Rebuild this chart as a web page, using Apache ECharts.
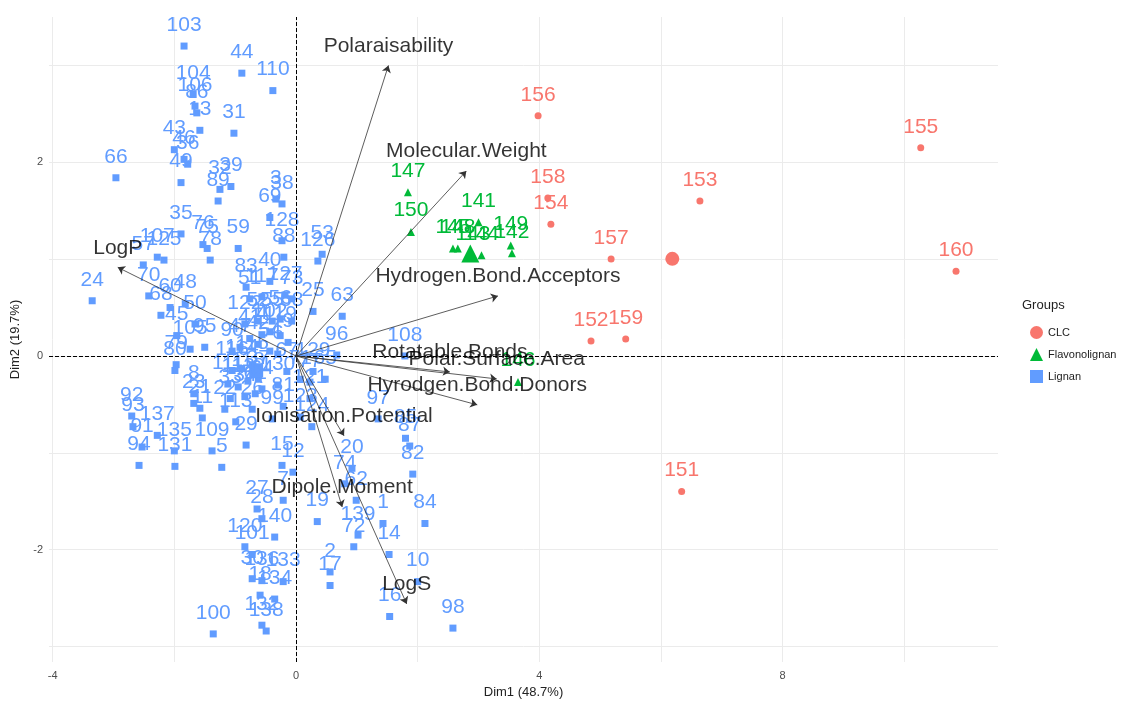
<!DOCTYPE html>
<html>
<head>
<meta charset="utf-8">
<script src="https://cdn.jsdelivr.net/npm/echarts@6/dist/echarts.min.js"></script>
<style>
  html, body { margin: 0; padding: 0; background: #fff; }
  #main { width: 1123px; height: 704px; }
</style>
</head>
<body>
<div id="main"></div>
<script>
// 个体坐标 [Dim1, Dim2, 标签]
var clcPts = [
  [3.98, 2.48, '156'], [4.14, 1.63, '158'], [4.19, 1.36, '154'], [5.18, 1.00, '157'],
  [4.85, 0.155, '152'], [5.42, 0.175, '159'], [6.64, 1.60, '153'], [10.27, 2.15, '155'],
  [10.85, 0.876, '160'], [6.34, -1.40, '151']
];
var flavPts = [
  [1.84, 1.69, '147'], [1.89, 1.28, '150'], [3.00, 1.38, '141'], [2.58, 1.11, '145'],
  [2.66, 1.11, '148'], [2.91, 1.04, '143'], [3.05, 1.04, '144'], [3.53, 1.14, '149'],
  [3.55, 1.06, '142'], [3.65, -0.27, '146']
];
var lignanPts = [
  [-1.84, 3.20, '103'], [-0.89, 2.92, '44'], [-0.38, 2.74, '110'], [-1.69, 2.70, '104'],
  [-1.66, 2.58, '106'], [-1.63, 2.51, '86'], [-1.58, 2.33, '13'], [-1.02, 2.30, '31'],
  [-2.00, 2.13, '43'], [-1.84, 2.03, '46'], [-1.78, 1.98, '36'], [-1.89, 1.79, '49'],
  [-2.96, 1.84, '66'], [-1.25, 1.72, '32'], [-1.07, 1.75, '39'], [-1.28, 1.60, '89'],
  [-1.89, 1.26, '35'], [-1.53, 1.15, '76'], [-1.46, 1.11, '75'], [-1.41, 0.99, '78'],
  [-0.95, 1.11, '59'], [-2.28, 1.02, '107'], [-2.17, 0.99, '125'], [-2.51, 0.94, '57'],
  [-2.42, 0.62, '70'], [-3.35, 0.57, '24'], [-2.22, 0.42, '68'], [-2.07, 0.50, '60'],
  [-1.82, 0.54, '48'], [-1.66, 0.33, '50'], [-1.96, 0.21, '45'], [-1.74, 0.07, '105'],
  [-1.50, 0.09, '95'], [-1.97, -0.09, '79'], [-1.99, -0.15, '80'], [-1.68, -0.39, '8'],
  [-1.68, -0.49, '23'], [-1.58, -0.54, '21'], [-1.54, -0.64, '11'], [-0.99, -0.68, '113'],
  [-2.70, -0.62, '92'], [-2.68, -0.73, '93'], [-2.28, -0.82, '137'], [-2.53, -0.94, '91'],
  [-2.58, -1.13, '94'], [-2.00, -0.98, '135'], [-1.99, -1.14, '131'], [-1.38, -0.98, '109'],
  [-1.22, -1.15, '5'], [-0.82, -0.92, '29'], [-0.39, -0.65, '99'], [-0.23, -1.13, '15'],
  [-0.05, -1.20, '12'], [-0.21, -1.49, '7'], [-0.64, -1.58, '27'], [-0.56, -1.68, '28'],
  [-0.35, -1.87, '140'], [-0.84, -1.97, '120'], [-0.72, -2.05, '101'], [-0.72, -2.30, '30'],
  [-0.56, -2.32, '136'], [-0.21, -2.33, '133'], [-0.59, -2.47, '18'], [-0.35, -2.51, '134'],
  [-0.56, -2.78, '132'], [-0.49, -2.84, '138'], [-1.36, -2.87, '100'], [0.56, -2.23, '2'],
  [0.56, -2.37, '17'], [0.35, -1.71, '19'], [1.02, -1.85, '139'], [0.95, -1.97, '72'],
  [1.43, -1.73, '1'], [1.53, -2.05, '14'], [2.12, -1.73, '84'], [2.00, -2.33, '10'],
  [1.54, -2.69, '16'], [2.58, -2.81, '98'], [0.92, -1.16, '20'], [0.80, -1.32, '74'],
  [0.99, -1.49, '62'], [1.35, -0.65, '97'], [1.80, -0.85, '85'], [1.87, -0.93, '87'],
  [1.92, -1.22, '82'], [1.79, 0.00, '108'], [0.43, 1.05, '53'], [0.36, 0.98, '126'],
  [0.28, 0.46, '25'], [0.76, 0.41, '63'], [0.67, 0.01, '96'], [0.28, -0.16, '129'],
  [0.48, -0.24, '65'], [-0.33, 1.62, '3'], [-0.43, 1.43, '69'], [-0.23, 1.57, '38'],
  [-0.23, 1.19, '128'], [-0.20, 1.02, '88'], [-0.43, 0.77, '40'], [-0.82, 0.71, '83'],
  [-0.84, 0.33, '122'], [-0.76, 0.59, '51'], [-0.56, 0.61, '117'], [-0.18, 0.63, '127'],
  [-0.07, 0.59, '73'], [-0.62, 0.36, '52'], [-0.39, 0.36, '55'], [-0.26, 0.38, '56'],
  [-0.07, 0.36, '58'], [-0.76, 0.18, '41'], [-0.62, 0.12, '42'], [-0.92, 0.09, '47'],
  [-0.56, 0.22, '4'], [-0.43, 0.25, '102'], [-0.26, 0.21, '119'], [-0.13, 0.14, '9'],
  [-1.05, 0.05, '90'], [-0.43, 0.05, '54'], [-0.30, 0.02, '6'], [-1.05, -0.15, '116'],
  [-0.89, -0.13, '114'], [-0.72, -0.09, '115'], [-1.12, -0.29, '111'], [-0.95, -0.32, '112'],
  [-0.79, -0.26, '118'], [-0.62, -0.24, '37'], [-1.08, -0.44, '33'], [-0.84, -0.42, '34'],
  [-0.67, -0.39, '61'], [-0.56, -0.34, '64'], [-1.17, -0.55, '22'], [-0.72, -0.55, '26'],
  [-0.15, -0.16, '67'], [0.07, -0.24, '71'], [0.23, -0.27, '77'], [-0.21, -0.52, '81'],
  [0.23, -0.44, '121'], [0.07, -0.63, '123'], [0.26, -0.73, '124'], [-0.30, -0.30, '130']
];

// 变量箭头
var varNames = ['Polaraisability', 'Molecular.Weight', 'Hydrogen.Bond.Acceptors', 'Rotatable.Bonds',
  'Polar.Surface.Area', 'Hyrodgen.Bond.Donors', 'Ionisation.Potential', 'Dipole.Moment', 'LogS', 'LogP'];
var varX = [1.52, 2.80, 3.32, 2.53, 3.30, 2.98, 0.79, 0.76, 1.82, -2.93];
var varY = [3.00, 1.91, 0.62, -0.165, -0.237, -0.505, -0.825, -1.56, -2.56, 0.915];

// 刻度
var xTicks = [-4, 0, 4, 8];
var xGrid = [-4, -2, 0, 2, 4, 6, 8, 10];
var yTicks = [-2, 0, 2];
var yGrid = [-3, -2, -1, 0, 1, 2, 3];

var font = 'Liberation Sans, Arial, sans-serif';

function mean(pts, k) {
  var s = 0;
  pts.forEach(function (p) { s += p[k]; });
  return s / pts.length;
}

function groupSeries(name, pts, color, symbol, size, bigSize) {
  var data = pts.map(function (p) {
    return { value: [p[0], p[1]], name: p[2] };
  });
  // 组均值点
  data.push({ value: [mean(pts, 0), mean(pts, 1)], name: '', symbolSize: bigSize, label: { show: false } });
  return {
    type: 'scatter',
    name: name,
    data: data,
    symbol: symbol,
    symbolSize: size,
    itemStyle: { color: color, opacity: 1 },
    label: {
      show: true,
      position: 'top',
      distance: 7,
      formatter: function (p) { return p.name; },
      color: color,
      fontSize: 21,
      fontFamily: font
    },
    z: 3
  };
}

var myChart = echarts.init(document.getElementById('main'));

var option = {
  animation: false,
  backgroundColor: '#fff',
  grid: { left: 49, right: 125, top: 17, bottom: 41 },
  xAxis: {
    type: 'value',
    min: -4.06,
    max: 11.54,
    axisLine: { show: false },
    axisTick: { show: false, customValues: xGrid },
    splitLine: { show: true, lineStyle: { color: '#ebebeb', width: 1 } },
    axisLabel: { customValues: xTicks, color: '#4d4d4d', fontSize: 11, margin: 8, fontFamily: font },
    name: 'Dim1 (48.7%)',
    nameLocation: 'middle',
    nameGap: 24,
    nameTextStyle: { color: '#222', fontSize: 13, fontFamily: font }
  },
  yAxis: {
    type: 'value',
    min: -3.16,
    max: 3.5,
    axisLine: { show: false },
    axisTick: { show: false, customValues: yGrid },
    splitLine: { show: true, lineStyle: { color: '#ebebeb', width: 1 } },
    axisLabel: { customValues: yTicks, color: '#4d4d4d', fontSize: 11, margin: 6, fontFamily: font },
    name: 'Dim2 (19.7%)',
    nameLocation: 'middle',
    nameGap: 26,
    nameTextStyle: { color: '#222', fontSize: 13, fontFamily: font }
  },
  legend: {
    orient: 'vertical',
    left: 1025,
    top: 321,
    itemWidth: 13,
    itemHeight: 13,
    itemGap: 9,
    data: ['CLC', 'Flavonolignan', 'Lignan'],
    textStyle: { fontSize: 11, color: '#222', fontFamily: font }
  },
  graphic: [{
    type: 'text',
    left: 1022,
    top: 299,
    style: { text: 'Groups', fill: '#222', font: '13px ' + font }
  }],
  series: [
    {
      type: 'scatter',
      data: [],
      silent: true,
      markLine: {
        silent: true,
        symbol: 'none',
        label: { show: false },
        lineStyle: { color: '#000', type: 'dashed', width: 1 },
        data: [{ xAxis: 0 }, { yAxis: 0 }]
      },
      z: 2
    },
    groupSeries('Lignan', lignanPts, '#619CFF', 'rect', 7, 14),
    groupSeries('Flavonolignan', flavPts, '#00BA38', 'triangle', 8, 18),
    groupSeries('CLC', clcPts, '#F8766D', 'circle', 7, 14),
    {
      type: 'lines',
      coordinateSystem: 'cartesian2d',
      silent: true,
      symbol: ['none', 'arrow'],
      symbolSize: [0, 7],
      lineStyle: { color: '#333', width: 0.8, opacity: 1 },
      data: varNames.map(function (n, i) {
        return { coords: [[0, 0], [varX[i], varY[i]]] };
      }),
      z: 5
    },
    {
      type: 'scatter',
      silent: true,
      symbolSize: 0,
      data: varNames.map(function (n, i) {
        return { value: [varX[i], varY[i]], name: n };
      }),
      label: {
        show: true,
        position: 'top',
        distance: 9,
        formatter: function (p) { return p.name; },
        color: '#000',
        fontSize: 21,
        fontFamily: font
      },
      z: 6
    }
  ]
};

myChart.setOption(option);
</script>
</body>
</html>
